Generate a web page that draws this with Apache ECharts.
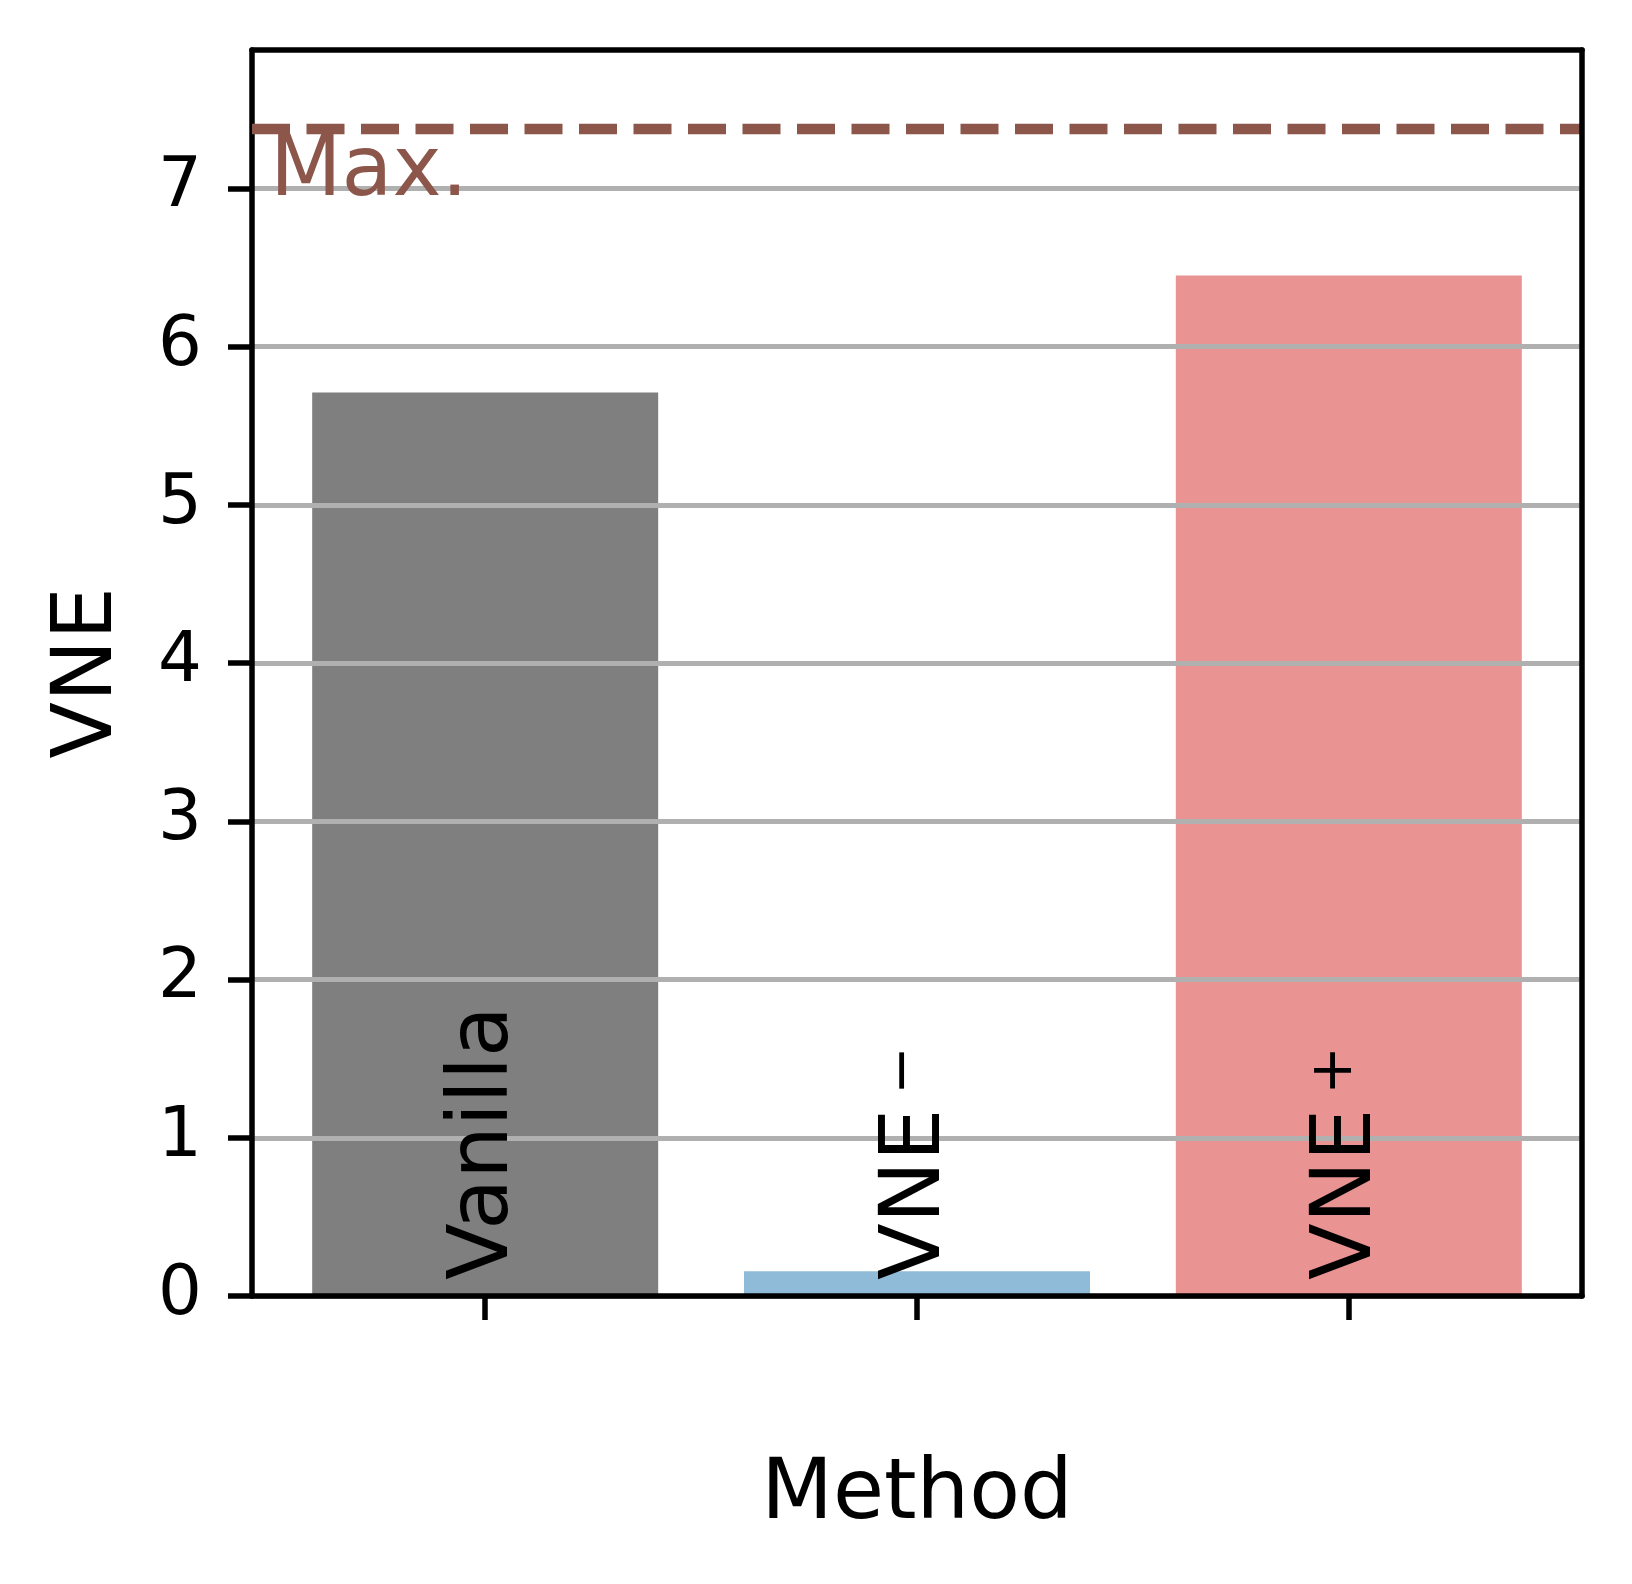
<!DOCTYPE html>
<html>
<head>
<meta charset="utf-8">
<script src="https://cdn.jsdelivr.net/npm/echarts@6/dist/echarts.min.js"></script>
<style>
  html, body { margin: 0; padding: 0; background: #fff; }
  #main { width: 1632px; height: 1584px; }
</style>
</head>
<body>
<div id="main"></div>
<script>
// data
var methods = ['Vanilla', 'VNE-', 'VNE+'];
var methodPos = [0, 1, 2];
var vneValues = [5.71, 0.156, 6.45];
var maxVNE = 7.375;
var yTicks = [0, 1, 2, 3, 4, 5, 6, 7];

var barColors = ['#7f7f7f', '#8fbbd9', '#ea9393'];
var font = 'DejaVu Sans';

function methodLabel(v) {
    var name = methods[methodPos.indexOf(v)];
    if (name === undefined) return '';
    if (name.slice(-1) === '-' || name.slice(-1) === '+') {
        var sup = name.slice(-1) === '-' ? '\u2212' : '+';
        return '{a|' + name.slice(0, -1) + '}{s|' + sup + '}';
    }
    return '{a|' + name + '}';
}

var myChart = echarts.init(document.getElementById('main'), null, {renderer: 'canvas'});

var frameLine = {show: true, onZero: false, lineStyle: {color: '#000', width: 5.5}};

var option = {
    animation: false,
    backgroundColor: '#fff',
    textStyle: {fontFamily: font},
    grid: {left: 252, right: 50, top: 50, bottom: 288},
    xAxis: [
        {
            type: 'value',
            min: -0.54,
            max: 2.54,
            z: 5,
            name: 'Method',
            nameLocation: 'middle',
            nameGap: 159,
            nameTextStyle: {fontSize: 83, color: '#000', fontFamily: font},
            axisLine: frameLine,
            axisTick: {show: true, customValues: methodPos, length: 24, lineStyle: {color: '#000', width: 5.5}},
            splitLine: {show: false},
            axisLabel: {
                customValues: methodPos,
                inside: true,
                rotate: 90,
                margin: 16,
                formatter: methodLabel,
                rich: {
                    a: {fontSize: 83, color: '#000', fontFamily: font},
                    s: {fontSize: 58, color: '#000', fontFamily: font, verticalAlign: 'top', padding: [0, 0, 0, 14]}
                }
            }
        },
        {
            type: 'value',
            position: 'top',
            min: -0.54,
            max: 2.54,
            z: 6,
            axisLine: frameLine,
            axisTick: {show: false},
            axisLabel: {show: false},
            splitLine: {show: false}
        }
    ],
    yAxis: [
        {
            type: 'value',
            min: 0,
            max: 7.875,
            interval: 1,
            z: 3,
            name: 'VNE',
            nameLocation: 'middle',
            nameGap: 121,
            nameTextStyle: {fontSize: 83, color: '#000', fontFamily: font},
            axisLine: frameLine,
            axisTick: {show: true, customValues: yTicks, length: 24, lineStyle: {color: '#000', width: 5.5}},
            axisLabel: {
                customValues: yTicks,
                margin: 50,
                fontSize: 69,
                color: '#000',
                fontFamily: font
            },
            splitLine: {show: true, lineStyle: {color: '#b0b0b0', width: 5}}
        },
        {
            type: 'value',
            position: 'right',
            min: 0,
            max: 7.875,
            z: 6,
            axisLine: frameLine,
            axisTick: {show: false},
            axisLabel: {show: false},
            splitLine: {show: false}
        }
    ],
    series: [
        {
            name: 'VNE',
            type: 'bar',
            xAxisIndex: 0,
            yAxisIndex: 0,
            z: 2,
            barWidth: 346,
            data: methodPos.map(function (x, i) { return [x, vneValues[i]]; }),
            itemStyle: {
                color: function (p) { return barColors[p.dataIndex]; }
            }
        },
        {
            name: 'Max.',
            type: 'line',
            xAxisIndex: 0,
            yAxisIndex: 0,
            z: 10,
            data: [],
            markLine: {
                silent: true,
                symbol: 'none',
                lineStyle: {color: '#8c564b', width: 10.4, type: [38, 16.5], cap: 'butt'},
                label: {
                    show: true,
                    position: 'insideStartBottom',
                    distance: [18, 4],
                    formatter: 'Max.',
                    fontSize: 83,
                    color: '#8c564b',
                    fontFamily: font
                },
                data: [{yAxis: maxVNE}]
            }
        }
    ]
};

myChart.setOption(option);
</script>
</body>
</html>
